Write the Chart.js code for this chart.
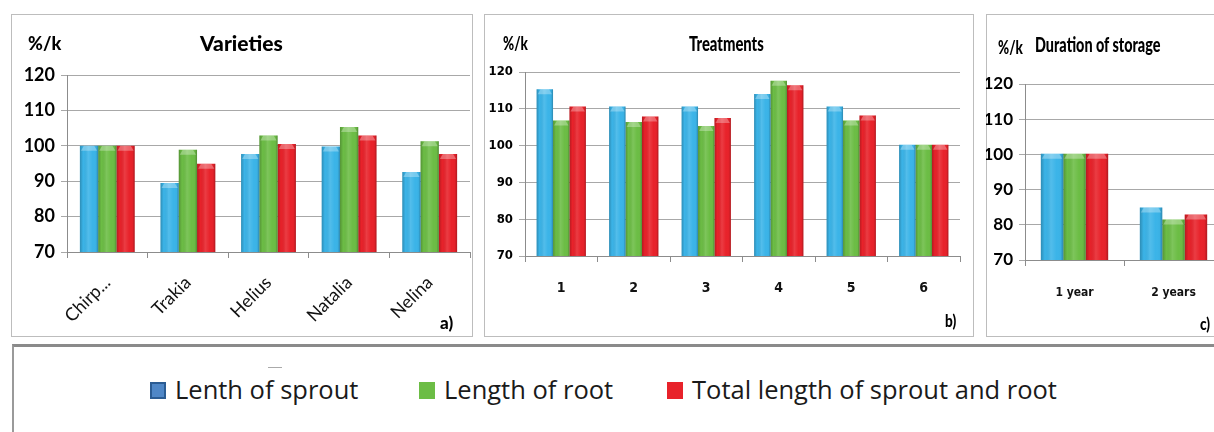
<!DOCTYPE html>
<html>
<head>
<meta charset="utf-8">
<script src="https://cdn.jsdelivr.net/npm/chart.js@4.4.1/dist/chart.umd.min.js"></script>
<style>
  html, body { margin: 0; padding: 0; background: #fff; }
  body { width: 1214px; height: 432px; overflow: hidden; position: relative; font-family: Lato, sans-serif; }
  .box { position: absolute; border: 1px solid #bdbdbd; box-sizing: border-box; }
  canvas { position: absolute; }
  .lbl { position: absolute; white-space: nowrap; color: #000; font-weight: 900; line-height: 1; transform-origin: 0 0; }
  #legendBox { position: absolute; left: 12px; top: 344px; width: 1230px; height: 100px;
    border-top: 3px solid #8a8a8a; border-left: 2px solid #9a9a9a; box-sizing: border-box; }
  .item { position: absolute; top: 374px; font-family: "Open Sans", sans-serif; font-size: 25.5px; line-height: 30px;
    color: #1a1a1a; white-space: nowrap; }
  .swatch { position: absolute; top: 382px; width: 16px; height: 17px; box-sizing: border-box; }
</style>
</head>
<body>
<div class="box" style="left:11px;top:14px;width:462px;height:323px"></div>
<div class="box" style="left:484px;top:14px;width:490px;height:323px"></div>
<div class="box" style="left:986px;top:14px;width:260px;height:323px"></div>

<canvas id="chartA" width="462" height="323" style="left:11px;top:14px"></canvas>
<canvas id="chartB" width="490" height="323" style="left:484px;top:14px"></canvas>
<canvas id="chartC" width="260" height="323" style="left:986px;top:14px"></canvas>

<div class="lbl" style="left:28px;top:34px;font-size:18px">%/k</div>
<div class="lbl" style="left:200px;top:32px;font-size:21px">Varieties</div>
<div class="lbl" style="left:440px;top:314px;font-size:17px">a)</div>

<div class="lbl" style="left:503px;top:34px;font-size:18px;transform:scaleX(0.75)">%/k</div>
<div class="lbl" style="left:689px;top:33px;font-size:20px;transform:scaleX(0.74)">Treatments</div>
<div class="lbl" style="left:945px;top:312px;font-size:17px;transform:scaleX(0.8)">b)</div>

<div class="lbl" style="left:998px;top:38px;font-size:18px;transform:scaleX(0.75)">%/k</div>
<div class="lbl" style="left:1035px;top:34px;font-size:20px;transform:scaleX(0.72)">Duration of storage</div>
<div class="lbl" style="left:1200px;top:315px;font-size:17px;transform:scaleX(0.8)">c)</div>

<div id="legendBox"></div>
<div style="position:absolute;left:268px;top:367px;width:14px;height:1px;background:#aaa"></div>
<div id="legend"></div>

<script>
const seriesNames = ['Lenth of sprout', 'Length of root', 'Total length of sprout and root'];
const barColors = ['#3bb4e8', '#6cbd45', '#e8222a'];
const legendColors = ['#4f87c7', '#6cbd45', '#e8222a'];

const varieties = ['Chirp...', 'Trakia', 'Helius', 'Natalia', 'Nelina'];
const varSprout = [100, 89.5, 97.7, 99.8, 92.6];
const varRoot = [100, 98.9, 102.9, 105.3, 101.3];
const varTotal = [100, 94.9, 100.5, 102.9, 97.7];

const treatments = ['1', '2', '3', '4', '5', '6'];
const trSprout = [115.3, 110.6, 110.6, 114.0, 110.6, 100.2];
const trRoot = [106.8, 106.4, 105.3, 117.6, 106.8, 100.2];
const trTotal = [110.6, 107.9, 107.5, 116.4, 108.2, 100.2];

const storage = ['1 year', '2 years'];
const stSprout = [100.2, 84.9];
const stRoot = [100.2, 81.5];
const stTotal = [100.2, 82.9];

const yMin = 70;
const yMax = 120;
const yStep = 10;

const narrowFont = '"Liberation Sans Narrow", "DejaVu Sans Condensed", sans-serif';

// light/dark shading on top of each bar to mimic the 3d look
const shade = {
  id: 'shade',
  afterDatasetsDraw(chart) {
    const ctx = chart.ctx;
    const bottom = chart.chartArea.bottom;
    ctx.save();
    chart.data.datasets.forEach((ds, i) => {
      chart.getDatasetMeta(i).data.forEach(bar => {
        const p = bar.getProps(['x', 'y', 'width'], true);
        const l = p.x - p.width / 2;
        const g = ctx.createLinearGradient(l, 0, l + p.width, 0);
        g.addColorStop(0, 'rgba(0,0,0,0.22)');
        g.addColorStop(0.18, 'rgba(0,0,0,0)');
        g.addColorStop(0.45, 'rgba(255,255,255,0.12)');
        g.addColorStop(0.7, 'rgba(255,255,255,0)');
        g.addColorStop(0.88, 'rgba(0,0,0,0.02)');
        g.addColorStop(1, 'rgba(0,0,0,0.25)');
        ctx.fillStyle = g;
        ctx.fillRect(l, p.y, p.width, bottom - p.y);
        ctx.fillStyle = 'rgba(255,255,255,0.3)';
        ctx.beginPath();
        ctx.moveTo(l + 1, p.y + 5);
        ctx.lineTo(l + 4, p.y);
        ctx.lineTo(l + p.width - 4, p.y);
        ctx.lineTo(l + p.width - 1, p.y + 5);
        ctx.closePath();
        ctx.fill();
      });
    });
    ctx.restore();
  }
};

function makeChart(id, labels, sprout, root, total, cfg) {
  const values = [sprout, root, total];
  return new Chart(document.getElementById(id), {
    type: 'bar',
    data: {
      labels: labels,
      datasets: values.map((v, i) => ({
        label: seriesNames[i],
        data: v,
        backgroundColor: barColors[i],
        borderWidth: 0
      }))
    },
    options: {
      responsive: false,
      animation: false,
      layout: { padding: { top: cfg.top, right: cfg.right, left: 0, bottom: 0 } },
      datasets: { bar: { categoryPercentage: 0.68, barPercentage: 1 } },
      plugins: { legend: { display: false }, tooltip: { enabled: false } },
      scales: {
        x: {
          grid: { drawOnChartArea: false, color: '#8c8c8c', tickLength: 6 },
          border: { color: '#8c8c8c' },
          ticks: {
            font: cfg.xFont, color: '#111', padding: cfg.xPad,
            minRotation: cfg.rot, maxRotation: cfg.rot, autoSkip: false
          },
          afterFit(s) { s.height = cfg.xH; }
        },
        y: {
          min: yMin, max: yMax,
          grid: { color: '#a8a8a8', tickLength: 6 },
          border: { color: '#8c8c8c' },
          ticks: { stepSize: yStep, font: cfg.yFont, color: '#000', padding: 6 },
          afterFit(s) { s.width = cfg.yW; }
        }
      }
    },
    plugins: [shade]
  });
}

makeChart('chartA', varieties, varSprout, varRoot, varTotal, {
  top: 61, right: 3, yW: 56, xH: 85, rot: 45, xPad: 14,
  yFont: { family: 'Lato', size: 18, weight: 'bold' },
  xFont: { family: 'Lato', size: 18 }
});

makeChart('chartB', treatments, trSprout, trRoot, trTotal, {
  top: 58, right: 14, yW: 41, xH: 81, rot: 0, xPad: 18,
  yFont: { family: narrowFont, size: 13, weight: 'bold' },
  xFont: { family: narrowFont, size: 14, weight: 'bold' }
});

makeChart('chartC', storage, stSprout, stRoot, stTotal, {
  top: 70, right: 23, yW: 39, xH: 77, rot: 0, xPad: 20,
  yFont: { family: 'Lato', size: 17, weight: 'bold' },
  xFont: { family: narrowFont, size: 12, weight: 'bold' }
});

// legend
const legend = document.getElementById('legend');
const swatchLeft = [150, 419, 667];
seriesNames.forEach((name, i) => {
  const sw = document.createElement('div');
  sw.className = 'swatch';
  sw.style.left = swatchLeft[i] + 'px';
  sw.style.background = legendColors[i];
  if (i === 0) sw.style.border = '2px solid #2b5c93';
  const t = document.createElement('div');
  t.className = 'item';
  t.style.left = (swatchLeft[i] + 25) + 'px';
  t.textContent = name;
  legend.append(sw);
  legend.append(t);
});
</script>
</body>
</html>
